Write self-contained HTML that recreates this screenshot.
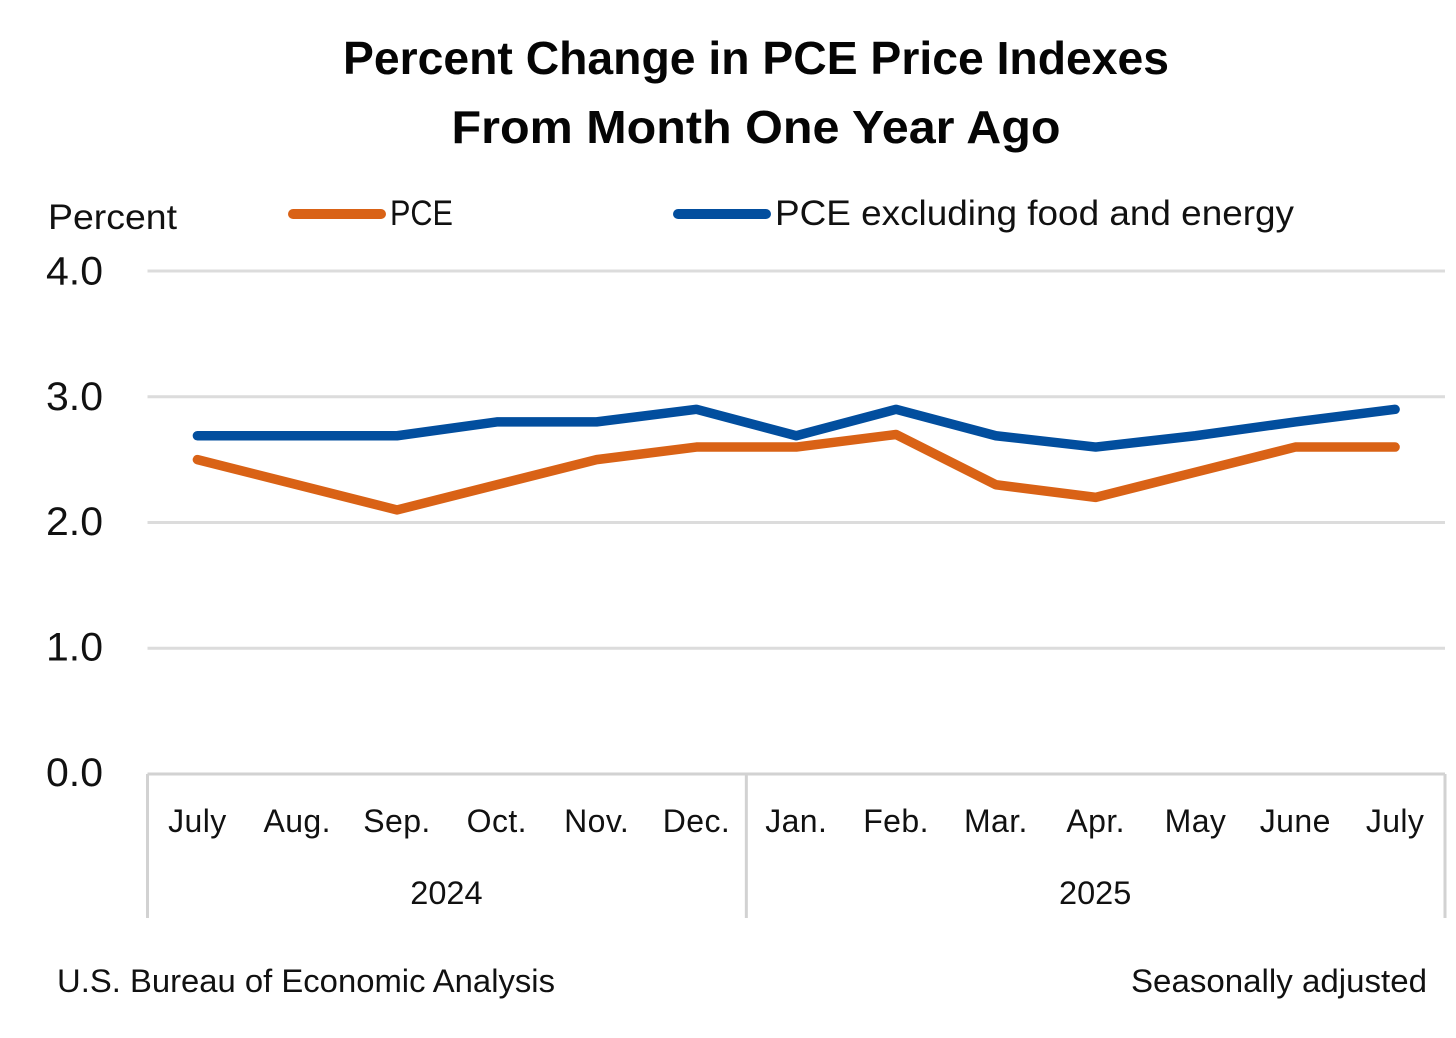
<!DOCTYPE html>
<html>
<head>
<meta charset="utf-8">
<style>
html,body{margin:0;padding:0;background:#fff;}
svg{display:block;}
text{font-family:"Liberation Sans",sans-serif;fill:#111;}
</style>
</head>
<body>
<svg id="chart" width="1456" height="1038" viewBox="0 0 1456 1038" xmlns="http://www.w3.org/2000/svg">
<rect width="1456" height="1038" fill="#fff"/>
<text x="756" y="74" font-size="46" font-weight="700" text-anchor="middle" textLength="826" lengthAdjust="spacingAndGlyphs" style="fill:#050505">Percent Change in PCE Price Indexes</text>
<text x="756" y="143" font-size="46" font-weight="700" text-anchor="middle" textLength="609" lengthAdjust="spacingAndGlyphs" style="fill:#050505">From Month One Year Ago</text>
<text x="48" y="229" font-size="35" textLength="129" lengthAdjust="spacingAndGlyphs">Percent</text>
<line x1="293" y1="214" x2="381" y2="214" stroke="#D96216" stroke-width="10" stroke-linecap="round"/>
<text x="390" y="225" font-size="35" textLength="63" lengthAdjust="spacingAndGlyphs">PCE</text>
<line x1="678" y1="214" x2="766" y2="214" stroke="#024E9E" stroke-width="10" stroke-linecap="round"/>
<text x="775" y="225" font-size="35" textLength="519" lengthAdjust="spacingAndGlyphs">PCE excluding food and energy</text>
<g id="grid"></g>
<g id="axis"></g>
<g id="series"></g>
<text x="57" y="992" font-size="32" textLength="498" lengthAdjust="spacingAndGlyphs">U.S. Bureau of Economic Analysis</text>
<text x="1131" y="992" font-size="32" textLength="296" lengthAdjust="spacingAndGlyphs">Seasonally adjusted</text>
</svg>
<script>
const months = ["July","Aug.","Sep.","Oct.","Nov.","Dec.","Jan.","Feb.","Mar.","Apr.","May","June","July"];
const yearLabels = ["2024","2025"];
const yearSpans = [6,7];
const yTicks = [0,1,2,3,4];
const pceValues = [2.5,2.3,2.1,2.3,2.5,2.6,2.6,2.7,2.3,2.2,2.4,2.6,2.6];
const coreValues = [2.69,2.69,2.69,2.8,2.8,2.9,2.69,2.9,2.69,2.6,2.69,2.8,2.9];

const NS = "http://www.w3.org/2000/svg";
const plotLeft = 147.5, plotRight = 1445, yZero = 774, yFour = 271;
const bandW = (plotRight - plotLeft) / months.length;
const xScale = i => plotLeft + bandW * (i + 0.5);
const yScale = v => yZero - (v / 4) * (yZero - yFour);
const labelY = v => 786 - v * 125.4;
const make = (tag, attrs, parent, txt) => {
  const el = document.createElementNS(NS, tag);
  for (const k in attrs) el.setAttribute(k, attrs[k]);
  if (txt !== undefined) el.textContent = txt;
  parent.appendChild(el);
  return el;
};
const grid = document.getElementById("grid");
const axis = document.getElementById("axis");
const series = document.getElementById("series");

yTicks.forEach(t => {
  const y = yScale(t);
  const line = make("line", {x1: plotLeft, x2: plotRight, y1: y, y2: y, stroke: t === 0 ? "#d2d2d2" : "#dcdcdc", "stroke-width": 3}, grid);
  
  
  const lab = make("text", {x: 46, y: labelY(t), "font-size": 40, textLength: 57, lengthAdjust: "spacingAndGlyphs"}, axis, t.toFixed(1));
  
  
});

months.forEach((m, i) => {
  const lab = make("text", {x: xScale(i), y: 832, "font-size": 32, "text-anchor": "middle", "letter-spacing": 0.4}, axis, m);
  
  
});

let start = 0;
yearLabels.forEach((yr, i) => {
  const x0 = plotLeft + start * bandW;
  const sep = make("line", {x1: x0, x2: x0, y1: yZero, y2: 918, stroke: "#d2d2d2", "stroke-width": 3}, axis);
  
  
  const lab = make("text", {x: x0 + yearSpans[i] * bandW / 2 - 0.5, y: 904, "font-size": 32.5, "text-anchor": "middle"}, axis, yr);
  
  
  start += yearSpans[i];
});
const sepEnd = make("line", {x1: plotRight, x2: plotRight, y1: yZero, y2: 918, stroke: "#d2d2d2", "stroke-width": 3}, axis);



const toPoints = vals => vals.map((v, i) => xScale(i) + "," + yScale(v)).join(" ");
const pceLine = make("polyline", {points: toPoints(pceValues), fill: "none", stroke: "#D96216", "stroke-width": 9.5, "stroke-linecap": "round", "stroke-linejoin": "round"}, series);


const coreLine = make("polyline", {points: toPoints(coreValues), fill: "none", stroke: "#024E9E", "stroke-width": 9.5, "stroke-linecap": "round", "stroke-linejoin": "round"}, series);


</script>
</body>
</html>
